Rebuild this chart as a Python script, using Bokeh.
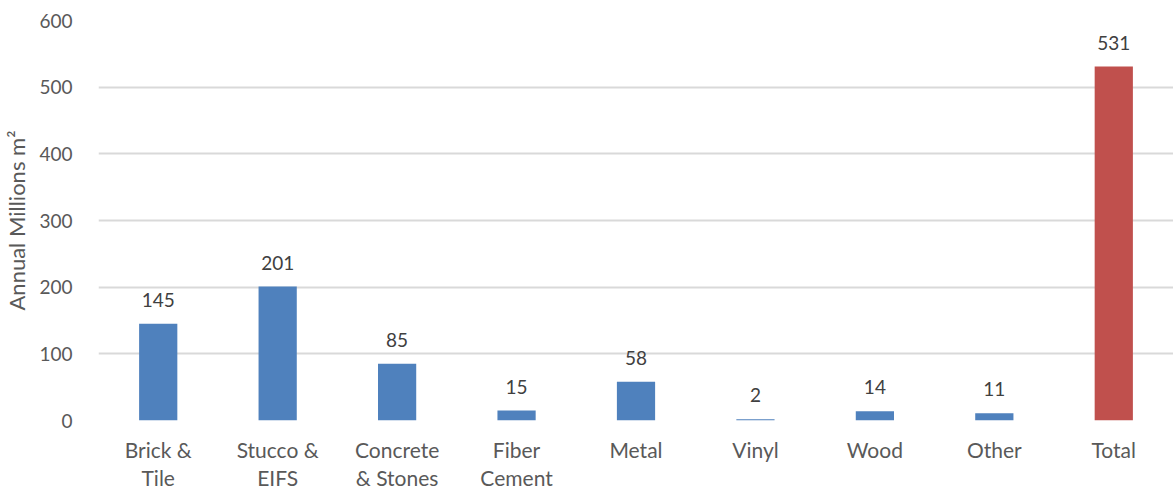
from bokeh.plotting import figure
from bokeh.models import ColumnDataSource, FactorRange, Range1d, FixedTicker
from bokeh.core.properties import value
from bokeh.embed import file_html
from bokeh.resources import INLINE

categories = ["Brick &\nTile", "Stucco &\nEIFS", "Concrete\n& Stones", "Fiber\nCement",
              "Metal", "Vinyl", "Wood", "Other", "Total"]
values = [145, 201, 85, 15, 58, 2, 14, 11, 531]
colors = ["#4F81BD"] * 8 + ["#C0504D"]
y_ticks = [0, 100, 200, 300, 400, 500, 600]

FONT = "Lato"

src = ColumnDataSource(dict(cat=categories, val=values, color=colors,
                            lab=[str(v) for v in values]))

p = figure(frame_width=1075, frame_height=400, output_backend="svg", toolbar_location=None,
           x_range=FactorRange(factors=categories, range_padding=0),
           y_range=Range1d(0, 600),
           min_border_left=90, min_border_right=0, min_border_top=20, min_border_bottom=0)
p.outline_line_color = None

p.vbar(x="cat", top="val", width=0.32, color="color", line_color=None, source=src)
p.text(x="cat", y="val", text="lab", source=src, text_align="center", text_baseline="bottom",
       y_offset=-17, text_font=value(FONT), text_font_size="19px", text_color="#404040")

p.yaxis.ticker = FixedTicker(ticks=y_ticks)
p.yaxis.axis_line_color = None
p.yaxis.major_tick_line_color = None
p.yaxis.minor_tick_line_color = None
p.yaxis.major_label_text_font = FONT
p.yaxis.major_label_text_font_size = "19px"
p.yaxis.major_label_text_color = "#595959"
p.yaxis.major_label_standoff = 20
p.yaxis.axis_label = "Annual Millions m²"
p.yaxis.axis_label_text_font = FONT
p.yaxis.axis_label_text_font_style = "normal"
p.yaxis.axis_label_text_font_size = "22px"
p.yaxis.axis_label_text_color = "#595959"
p.yaxis.axis_label_standoff = 6

p.xaxis.axis_line_color = None
p.xaxis.major_tick_line_color = None
p.xaxis.minor_tick_line_color = None
p.xaxis.major_label_text_font = FONT
p.xaxis.major_label_text_font_size = "21px"
p.xaxis.major_label_text_line_height = 1.15
p.xaxis.major_label_text_color = "#595959"
p.xaxis.major_label_standoff = 10

p.xgrid.grid_line_color = None
p.ygrid.grid_line_color = "#D9D9D9"
p.ygrid.grid_line_width = 2

open("out.html", "w").write(file_html(p, INLINE))
